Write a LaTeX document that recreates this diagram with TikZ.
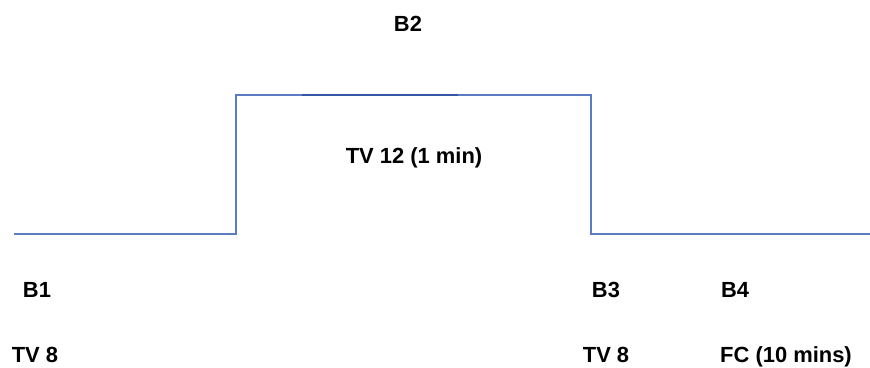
\documentclass[tikz,border=0pt]{standalone}
\usepackage{fontspec}
\setmainfont{Liberation Sans}
\definecolor{steplinecol}{HTML}{5B7CC0}
\definecolor{steptopcol}{HTML}{3558A6}
\tikzset{
  lbl/.style={anchor=base,inner sep=0pt,font=\fontsize{22}{26}\selectfont\bfseries},
  stepline/.style={draw=steplinecol,line width=1.5bp}
}
\begin{document}
\begin{tikzpicture}[x=1bp,y=-1bp]
  \useasboundingbox (0,0) rectangle (870,367);
  % step profile
  \coordinate (s0) at (14,234);
  \coordinate (s1) at (236,234);
  \coordinate (s2) at (236,95);
  \coordinate (s3) at (591,95);
  \coordinate (s4) at (591,234);
  \coordinate (s5) at (870,234);
  \coordinate (t0) at (302,95);
  \coordinate (t1) at (458,95);
  \draw[stepline] (s0) -- (s1) -- (s2) -- (s3) -- (s4) -- (s5);
  \draw[stepline,draw=steptopcol] (t0) -- (t1);
  % labels
  \node[lbl] (b2) at (408,31) {B2};
  \node[lbl] (tv12) at (414,163) {TV 12 (1 min)};
  \node[lbl] (b1) at (37,297) {B1};
  \node[lbl] (b3) at (606,297) {B3};
  \node[lbl] (b4) at (735,297) {B4};
  \node[lbl] (tv8a) at (35,362) {TV 8};
  \node[lbl] (tv8b) at (606,362) {TV 8};
  \node[lbl] (fc) at (786,362) {FC (10 mins)};
\end{tikzpicture}
\end{document}
